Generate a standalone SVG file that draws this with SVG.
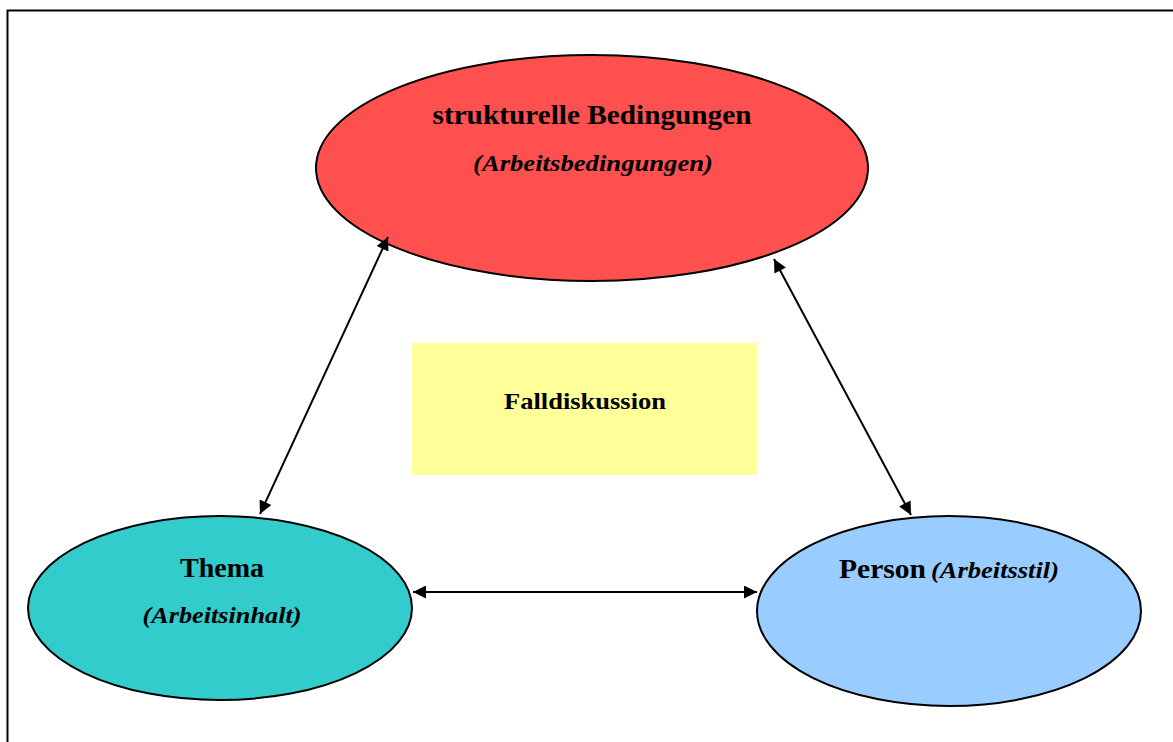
<svg xmlns="http://www.w3.org/2000/svg" width="1173" height="742" viewBox="0 0 1173 742">
<defs>
<style>
.node{stroke:#000;stroke-width:2}
.t{font-family:"Liberation Serif","Times New Roman",serif;font-weight:bold;fill:#000;text-anchor:middle}
.big{font-size:28px}
.it{font-style:italic;font-size:23px}
.conn line{stroke:#000;stroke-width:2;marker-start:url(#ah);marker-end:url(#ah)}
</style>
<marker id="ah" viewBox="0 0 10 10" refX="10" refY="5" markerWidth="14" markerHeight="13" markerUnits="userSpaceOnUse" orient="auto-start-reverse">
<path d="M0,0 L10,5 L0,10 z" fill="#000"/>
</marker>
</defs>
<rect width="1173" height="742" fill="#fff"/>
<path d="M7.5,742 V10.5 H1173" fill="none" stroke="#000" stroke-width="2"/>
<g id="node-struktur">
<ellipse class="node" cx="592" cy="168" rx="276" ry="113" fill="#FF5050"/>
<text class="t big" x="592" y="124" textLength="319" lengthAdjust="spacingAndGlyphs">strukturelle Bedingungen</text>
<text class="t it" x="593" y="171" textLength="240" lengthAdjust="spacingAndGlyphs">(Arbeitsbedingungen)</text>
</g>
<g id="node-fall">
<rect x="412" y="343" width="345" height="132" fill="#FFFF99"/>
<text class="t" x="585" y="409" font-size="24" textLength="162" lengthAdjust="spacingAndGlyphs">Falldiskussion</text>
</g>
<g id="node-thema">
<ellipse class="node" cx="220" cy="608" rx="192" ry="92" fill="#33CCCC"/>
<text class="t big" x="222" y="577" textLength="84" lengthAdjust="spacingAndGlyphs">Thema</text>
<text class="t it" x="222" y="623" textLength="159" lengthAdjust="spacingAndGlyphs">(Arbeitsinhalt)</text>
</g>
<g id="node-person">
<ellipse class="node" cx="949" cy="611" rx="192" ry="95" fill="#99CCFF"/>
<text class="t big" x="839" y="578" text-anchor="start" style="text-anchor:start" textLength="87" lengthAdjust="spacingAndGlyphs">Person</text>
<text class="t it" x="931" y="578" style="text-anchor:start" textLength="128" lengthAdjust="spacingAndGlyphs">(Arbeitsstil)</text>
</g>
<g id="connectors" class="conn">
<line x1="388" y1="237" x2="260" y2="514"/>
<line x1="774" y1="259" x2="911" y2="515"/>
<line x1="413" y1="592" x2="757" y2="592"/>
</g>
</svg>
